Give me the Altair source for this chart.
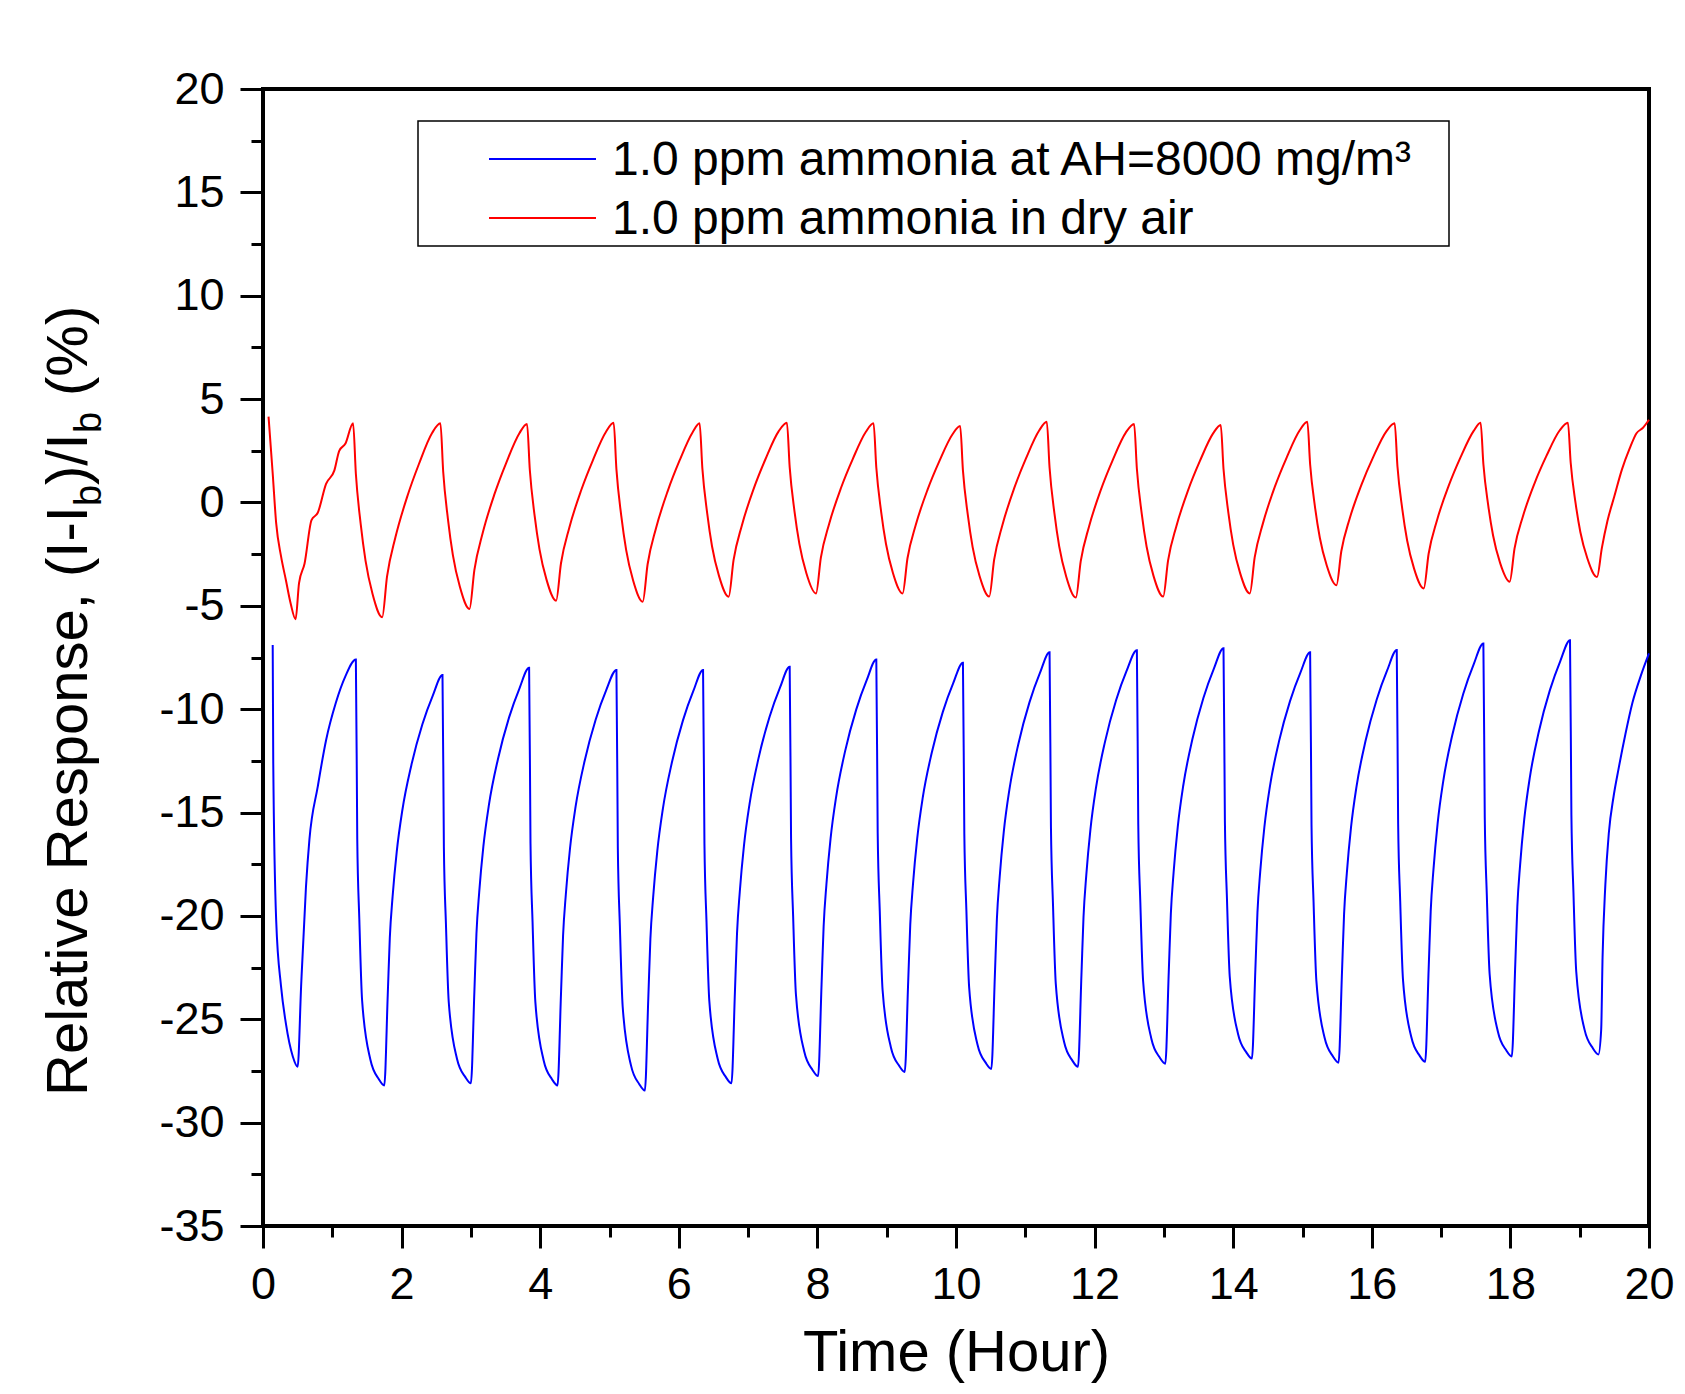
import altair as alt
import pandas as pd

FONT = "Liberation Sans"

# ---- data ----
red_t = [0.08, 0.14, 0.19, 0.26, 0.33, 0.40, 0.47, 0.52, 0.60, 0.70, 0.79, 0.91, 1.03, 1.10, 1.19, 1.30,
         1.34, 1.41, 1.48, 1.58, 1.72, 1.79, 1.91, 2.08, 2.25, 2.44, 2.56,
         2.60, 2.67, 2.74, 2.84, 2.98, 3.05, 3.17, 3.34, 3.51, 3.70, 3.81,
         3.85, 3.92, 3.99, 4.09, 4.23, 4.30, 4.42, 4.59, 4.76, 4.95, 5.06,
         5.10, 5.17, 5.24, 5.34, 5.48, 5.55, 5.67, 5.84, 6.01, 6.20, 6.30,
         6.34, 6.41, 6.48, 6.58, 6.72, 6.79, 6.91, 7.08, 7.25, 7.44, 7.56,
         7.60, 7.67, 7.74, 7.84, 7.98, 8.05, 8.17, 8.34, 8.51, 8.70, 8.81,
         8.85, 8.92, 8.99, 9.09, 9.23, 9.30, 9.42, 9.59, 9.76, 9.95, 10.06,
         10.10, 10.17, 10.24, 10.34, 10.48, 10.55, 10.67, 10.84, 11.01, 11.20, 11.31,
         11.35, 11.42, 11.49, 11.59, 11.73, 11.80, 11.92, 12.09, 12.26, 12.45, 12.57,
         12.61, 12.68, 12.75, 12.85, 12.99, 13.06, 13.18, 13.35, 13.52, 13.71, 13.82,
         13.86, 13.93, 14.00, 14.10, 14.24, 14.31, 14.43, 14.60, 14.77, 14.96, 15.07,
         15.11, 15.18, 15.25, 15.35, 15.49, 15.56, 15.68, 15.85, 16.02, 16.21, 16.33,
         16.37, 16.44, 16.51, 16.61, 16.75, 16.82, 16.94, 17.11, 17.28, 17.47, 17.57,
         17.61, 17.68, 17.75, 17.85, 17.99, 18.06, 18.18, 18.35, 18.52, 18.71, 18.83,
         18.87, 18.94, 19.01, 19.11, 19.25, 19.32, 19.40, 19.50, 19.61, 19.72, 19.82, 19.91, 20.00]
red_v = [4.15, 1.4, -1.0, -2.6, -3.75, -4.9, -5.65, -3.9, -2.95, -0.85, -0.5, 0.9, 1.55, 2.5, 2.85, 3.83,
         1.39, -1.05, -2.83, -4.42, -5.55, -3.58, -1.7, 0.27, 1.86, 3.36, 3.83,
         1.5, -0.84, -2.55, -4.07, -5.15, -3.27, -1.48, 0.4, 1.92, 3.35, 3.8,
         1.58, -0.65, -2.27, -3.72, -4.75, -2.94, -1.22, 0.58, 2.04, 3.42, 3.85,
         1.6, -0.65, -2.29, -3.76, -4.8, -2.99, -1.26, 0.55, 2.02, 3.4, 3.83,
         1.65, -0.53, -2.13, -3.55, -4.56, -2.79, -1.11, 0.66, 2.09, 3.44, 3.86,
         1.71, -0.44, -2.0, -3.41, -4.4, -2.67, -1.03, 0.7, 2.1, 3.42, 3.83,
         1.69, -0.45, -2.01, -3.41, -4.4, -2.7, -1.08, 0.62, 2.0, 3.3, 3.7,
         1.55, -0.59, -2.16, -3.56, -4.55, -2.78, -1.09, 0.69, 2.13, 3.48, 3.9,
         1.69, -0.52, -2.14, -3.58, -4.6, -2.84, -1.16, 0.61, 2.04, 3.38, 3.8,
         1.63, -0.54, -2.13, -3.55, -4.55, -2.81, -1.15, 0.6, 2.01, 3.34, 3.75,
         1.63, -0.49, -2.04, -3.42, -4.4, -2.66, -1.0, 0.75, 2.16, 3.49, 3.9,
         1.85, -0.21, -1.71, -3.05, -4.0, -2.36, -0.79, 0.85, 2.19, 3.44, 3.83,
         1.75, -0.32, -1.84, -3.2, -4.16, -2.48, -0.87, 0.81, 2.18, 3.46, 3.86,
         1.86, -0.14, -1.6, -2.91, -3.83, -2.22, -0.68, 0.94, 2.25, 3.48, 3.86,
         1.92, -0.02, -1.44, -2.7, -3.6, -2.2, -0.9, 0.3, 1.6, 2.6, 3.35, 3.6, 4.0]

blue_t = [0.14, 0.148, 0.19, 0.26, 0.33, 0.43, 0.50, 0.55, 0.62, 0.67, 0.79, 0.91, 1.05, 1.19, 1.34,
          1.36, 1.39, 1.43, 1.55, 1.67, 1.75, 1.80, 1.83, 1.87, 1.93, 2.01, 2.14, 2.30, 2.45, 2.59,
          2.61, 2.64, 2.68, 2.80, 2.92, 3.00, 3.05, 3.08, 3.12, 3.18, 3.26, 3.39, 3.55, 3.70, 3.84,
          3.86, 3.89, 3.93, 4.05, 4.17, 4.25, 4.30, 4.33, 4.37, 4.43, 4.51, 4.64, 4.80, 4.95, 5.10,
          5.12, 5.15, 5.19, 5.31, 5.43, 5.51, 5.56, 5.59, 5.63, 5.69, 5.77, 5.90, 6.06, 6.21, 6.35,
          6.37, 6.40, 6.44, 6.56, 6.68, 6.76, 6.81, 6.84, 6.88, 6.94, 7.02, 7.15, 7.31, 7.46, 7.60,
          7.62, 7.65, 7.69, 7.81, 7.93, 8.01, 8.06, 8.09, 8.13, 8.19, 8.27, 8.40, 8.56, 8.71, 8.85,
          8.87, 8.90, 8.94, 9.06, 9.18, 9.26, 9.31, 9.34, 9.38, 9.44, 9.52, 9.65, 9.81, 9.96, 10.10,
          10.12, 10.15, 10.19, 10.31, 10.43, 10.51, 10.56, 10.59, 10.63, 10.69, 10.77, 10.90, 11.06, 11.21, 11.35,
          11.37, 11.40, 11.44, 11.56, 11.68, 11.76, 11.81, 11.84, 11.88, 11.94, 12.02, 12.15, 12.31, 12.46, 12.61,
          12.63, 12.66, 12.70, 12.82, 12.94, 13.02, 13.07, 13.10, 13.14, 13.20, 13.28, 13.41, 13.57, 13.72, 13.86,
          13.88, 13.91, 13.95, 14.07, 14.19, 14.27, 14.32, 14.35, 14.39, 14.45, 14.53, 14.66, 14.82, 14.97, 15.11,
          15.13, 15.16, 15.20, 15.32, 15.44, 15.52, 15.57, 15.60, 15.64, 15.70, 15.78, 15.91, 16.07, 16.22, 16.36,
          16.38, 16.41, 16.45, 16.57, 16.69, 16.77, 16.82, 16.85, 16.89, 16.95, 17.03, 17.16, 17.32, 17.47, 17.61,
          17.63, 17.66, 17.70, 17.82, 17.94, 18.02, 18.07, 18.10, 18.14, 18.20, 18.28, 18.41, 18.57, 18.72, 18.86,
          18.88, 18.91, 18.95, 19.07, 19.19, 19.27, 19.31, 19.33, 19.37, 19.42, 19.49, 19.56, 19.66, 19.76, 19.88, 20.00]
blue_v = [-6.9, -12.6, -20.2, -23.4, -25.2, -26.8, -27.3, -23.4, -18.6, -16.3, -13.75, -11.5, -9.7, -8.4, -7.6,
          -16.25, -20.17, -24.08, -26.96, -27.89, -28.2, -23.83, -21.05, -19.07, -16.89, -14.9, -12.72, -10.73, -9.34, -8.35,
          -16.65, -20.4, -24.15, -26.92, -27.8, -28.1, -23.68, -20.86, -18.85, -16.64, -14.63, -12.42, -10.41, -9.0, -8.0,
          -16.48, -20.32, -24.16, -26.99, -27.9, -28.2, -23.78, -20.96, -18.95, -16.74, -14.73, -12.52, -10.51, -9.1, -8.1,
          -16.65, -20.51, -24.38, -27.23, -28.14, -28.45, -23.97, -21.12, -19.09, -16.85, -14.82, -12.58, -10.54, -9.12, -8.1,
          -16.5, -20.3, -24.1, -26.9, -27.8, -28.1, -23.67, -20.85, -18.83, -16.61, -14.6, -12.38, -10.37, -8.96, -7.95,
          -16.27, -20.03, -23.79, -26.56, -27.45, -27.75, -23.32, -20.5, -18.48, -16.26, -14.25, -12.03, -10.02, -8.61, -7.6,
          -15.98, -19.77, -23.56, -26.35, -27.25, -27.55, -23.19, -20.42, -18.44, -16.26, -14.28, -12.11, -10.13, -8.74, -7.75,
          -16.0, -19.74, -23.47, -26.22, -27.11, -27.4, -22.97, -20.15, -18.13, -15.91, -13.9, -11.68, -9.67, -8.26, -7.25,
          -15.67, -19.48, -23.29, -26.1, -27.0, -27.3, -22.87, -20.05, -18.03, -15.81, -13.8, -11.58, -9.57, -8.16, -7.15,
          -15.55, -19.35, -23.15, -25.95, -26.85, -27.15, -22.73, -19.91, -17.9, -15.69, -13.68, -11.47, -9.46, -8.05, -7.05,
          -15.39, -19.16, -22.93, -25.71, -26.6, -26.9, -22.58, -19.83, -17.86, -15.7, -13.73, -11.57, -9.61, -8.23, -7.25,
          -15.59, -19.36, -23.13, -25.91, -26.8, -27.1, -22.71, -19.91, -17.92, -15.72, -13.73, -11.53, -9.54, -8.14, -7.14,
          -15.51, -19.29, -23.08, -25.86, -26.76, -27.06, -22.61, -19.77, -17.75, -15.52, -13.5, -11.27, -9.25, -7.83, -6.82,
          -15.21, -19.01, -22.8, -25.6, -26.5, -26.8, -22.37, -19.55, -17.54, -15.32, -13.31, -11.09, -9.08, -7.67, -6.66,
          -15.08, -18.88, -22.69, -25.5, -26.4, -26.7, -25.5, -22.0, -18.5, -16.0, -14.2, -12.9, -11.2, -9.7, -8.4, -7.3]

series_names = ["1.0 ppm ammonia at AH=8000 mg/m\u00b3", "1.0 ppm ammonia in dry air"]
series_colors = ["#0000ff", "#ff0000"]

x_major = [0, 2, 4, 6, 8, 10, 12, 14, 16, 18, 20]
x_minor = [1, 3, 5, 7, 9, 11, 13, 15, 17, 19]
y_major = [-35, -30, -25, -20, -15, -10, -5, 0, 5, 10, 15, 20]
y_minor = [-32.5, -27.5, -22.5, -17.5, -12.5, -7.5, -2.5, 2.5, 7.5, 12.5, 17.5]

df = pd.concat([
    pd.DataFrame({"t": blue_t, "v": blue_v, "series": series_names[0]}),
    pd.DataFrame({"t": red_t, "v": red_v, "series": series_names[1]}),
], ignore_index=True)

W, H = 1386, 1137
DX = 4  # plot origin sits 4px left of the reference's; overlay texts compensate
xscale = alt.Scale(domain=[0, 20], nice=False, zero=False)
yscale = alt.Scale(domain=[-35, 20], nice=False, zero=False)

lines = alt.Chart(df).mark_line(strokeWidth=2, interpolate="monotone").encode(
    x=alt.X("t:Q", scale=xscale, axis=alt.Axis(
        orient="bottom", values=x_major, tickSize=22, tickWidth=3, labelFontSize=45,
        labelPadding=14, labelFlush=False, domain=False, grid=False,
        title="Time (Hour)", titleFontSize=58, titleFontWeight="normal",
        titleBaseline="alphabetic", titleY=144)),
    y=alt.Y("v:Q", scale=yscale, axis=alt.Axis(
        orient="left", values=y_major, tickSize=23, tickWidth=3, labelFontSize=45,
        labelPadding=16, labelFlush=False, domain=False, grid=False, title=None,
        labelExpr="'' + datum.value")),
    color=alt.Color("series:N", scale=alt.Scale(domain=series_names, range=series_colors), legend=None),
)

minor = alt.Chart(df).mark_line(strokeOpacity=0).encode(
    x=alt.X("t:Q", scale=xscale, axis=alt.Axis(
        orient="bottom", values=x_minor, tickSize=11, tickWidth=3, labels=False,
        domain=False, grid=False, title=None)),
    y=alt.Y("v:Q", scale=yscale, axis=alt.Axis(
        orient="left", values=y_minor, tickSize=12, tickWidth=3, labels=False,
        domain=False, grid=False, title=None)),
    detail="series:N",
)

one = pd.DataFrame({"k": [0]})

def txt(s, x, y, size, angle=0, color="black"):
    return alt.Chart(one).mark_text(
        text=s, font=FONT, fontSize=size, angle=angle, align="left",
        baseline="alphabetic", color=color
    ).encode(x=alt.value(x + DX), y=alt.value(y))

# y-axis title with subscripts
ytitle = [
    txt("Relative Response, (I-I", -180, 1007, 58, 270),
    txt("b", -166, 417, 38, 270),
    txt(")/I", -180, 396, 58, 270),
    txt("b", -166, 344, 38, 270),
    txt("(%)", -180, 307, 58, 270),
]

# legend box
leg_box = alt.Chart(one).mark_rect(fill="white", stroke="black", strokeWidth=1.5).encode(
    x=alt.value(151 + DX), x2=alt.value(1182 + DX), y=alt.value(32), y2=alt.value(157))
leg_items = []
for i, (name, col) in enumerate(zip(series_names, series_colors)):
    yy = 70 + 59 * i
    leg_items.append(alt.Chart(one).mark_rule(color=col, strokeWidth=2).encode(
        x=alt.value(222 + DX), x2=alt.value(329 + DX), y=alt.value(yy)))
    leg_items.append(alt.Chart(one).mark_text(
        text=name, font=FONT, fontSize=48, align="left", baseline="middle", color="black"
    ).encode(x=alt.value(345 + DX), y=alt.value(yy + 2)))

chart = alt.layer(minor, lines, leg_box, *leg_items, *ytitle).resolve_axis(
    x="independent", y="independent"
).properties(
    width=W, height=H,
    autosize=alt.AutoSizeParams(type="none"),
    padding={"left": 255, "top": 81, "right": 28, "bottom": 160},
).configure_view(
    stroke="black", strokeWidth=4
).configure_axis(
    labelFont=FONT, titleFont=FONT, labelColor="black", titleColor="black", tickColor="black"
)

chart.save("out.html", embed_options={"renderer": "svg", "actions": False})
